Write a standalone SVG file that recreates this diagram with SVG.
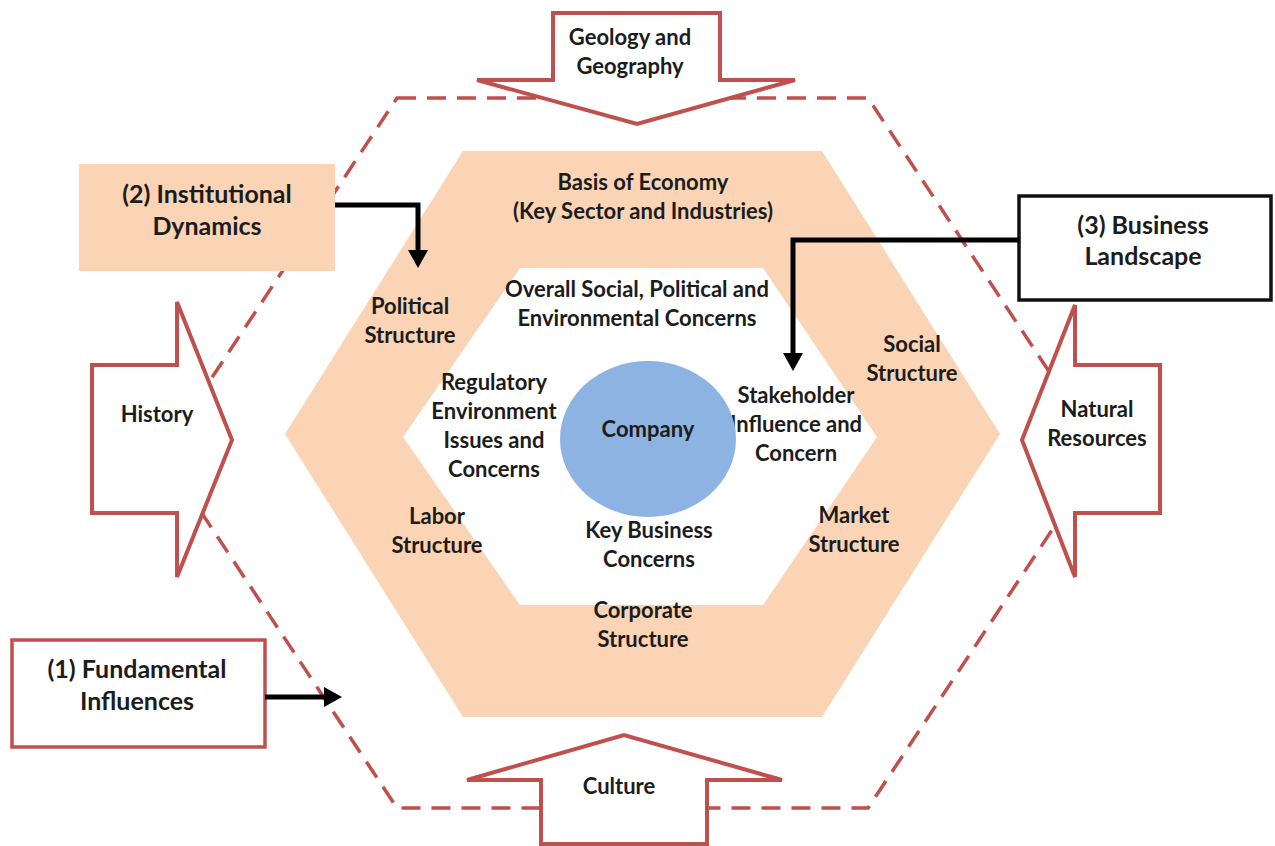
<svg xmlns="http://www.w3.org/2000/svg" width="1275" height="846" viewBox="0 0 1275 846">
<style>
text{font-family:Lato,"Open Sans","Liberation Sans",sans-serif;font-weight:bold;fill:#1c1c1c;text-anchor:middle;font-size:22px}
.big{font-size:25px}
.red{fill:#ffffff;stroke:#c0504d;stroke-width:4;stroke-linejoin:miter}
.dash{fill:none;stroke:#c0504d;stroke-width:3.5;stroke-dasharray:19 11}
.conn{fill:none;stroke:#000;stroke-width:5}
</style>
<defs>
<marker id="ah" viewBox="0 0 18 20" markerWidth="18" markerHeight="20" refX="8" refY="10" orient="auto" markerUnits="userSpaceOnUse">
<path d="M0,0 L18,10 L0,20 Z" fill="#000"/>
</marker>
</defs>
<rect width="1275" height="846" fill="#fff"/>
<g id="outer-hexagon">
<polygon class="dash" points="397,98 868,98 1103,453 868,808 397,808 162,453"/>
</g>
<g id="environment-hexagon">
<polygon points="463,151 822,151 1000,434 822,717 463,717 285,434" fill="#fad4b4"/>
<polygon points="520,268 763,268 877,437 763,605 520,605 403,437" fill="#fff"/>
<text x="643" y="190">Basis of Economy</text>
<text x="643" y="219">(Key Sector and Industries)</text>
<text x="410" y="314">Political</text>
<text x="410" y="343">Structure</text>
<text x="912" y="352">Social</text>
<text x="912" y="381">Structure</text>
<text x="437" y="524">Labor</text>
<text x="437" y="553">Structure</text>
<text x="854" y="523">Market</text>
<text x="854" y="552">Structure</text>
<text x="643" y="618">Corporate</text>
<text x="643" y="647">Structure</text>
<text x="637" y="297">Overall Social, Political and</text>
<text x="637" y="326">Environmental Concerns</text>
<text x="494" y="390">Regulatory</text>
<text x="494" y="419">Environment</text>
<text x="494" y="448">Issues and</text>
<text x="494" y="477">Concerns</text>
<text x="796" y="403">Stakeholder</text>
<text x="796" y="432">Influence and</text>
<text x="796" y="461">Concern</text>
<text x="649" y="538">Key Business</text>
<text x="649" y="567">Concerns</text>
</g>
<g id="company">
<ellipse cx="648" cy="439" rx="88" ry="78" fill="#8db3e2"/>
<text x="648" y="437">Company</text>
</g>
<g id="geology">
<path class="red" d="M553,13 L720,13 L720,80 L795,80 L637,124 L477,80 L553,80 Z"/>
<text x="630" y="45">Geology and</text>
<text x="630" y="74">Geography</text>
</g>
<g id="history">
<path class="red" d="M92,365 L177,365 L177,302 L232,440 L177,577 L177,513 L92,513 Z"/>
<text x="157" y="422">History</text>
</g>
<g id="natural-resources">
<path class="red" d="M1160,365 L1075,365 L1075,305 L1022,440 L1075,577 L1075,513 L1160,513 Z"/>
<text x="1097" y="417">Natural</text>
<text x="1097" y="446">Resources</text>
</g>
<g id="culture">
<path class="red" d="M541,844 L541,780 L467,780 L624,735 L782,780 L707,780 L707,844 Z"/>
<text x="619" y="794">Culture</text>
</g>
<g id="institutional">
<rect x="79" y="164" width="256" height="107" fill="#fad4b4"/>
<text class="big" x="207" y="203">(2) Institutional</text>
<text class="big" x="207" y="235">Dynamics</text>
</g>
<g id="business">
<rect x="1019" y="196" width="252" height="104" fill="#fff" stroke="#111" stroke-width="3.5"/>
<text class="big" x="1143" y="234">(3) Business</text>
<text class="big" x="1143" y="265">Landscape</text>
</g>
<g id="fundamental">
<rect x="12" y="640" width="253" height="107" fill="#fff" stroke="#c0504d" stroke-width="3.5"/>
<text class="big" x="137" y="678">(1) Fundamental</text>
<text class="big" x="137" y="710">Influences</text>
</g>
<g id="connectors">
<polyline class="conn" points="335,205 418,205 418,258" marker-end="url(#ah)"/>
<polyline class="conn" points="1019,240 793,240 793,361" marker-end="url(#ah)"/>
<polyline class="conn" points="265,697 332,697" marker-end="url(#ah)"/>
</g>
</svg>
